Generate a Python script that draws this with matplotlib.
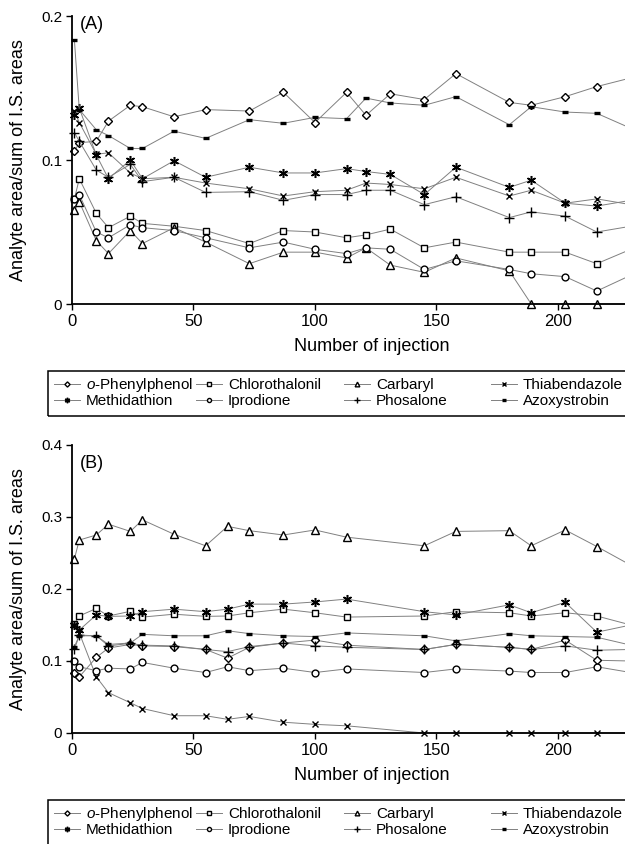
import matplotlib
matplotlib.use('Agg')
import matplotlib.pyplot as plt
from matplotlib.patches import Rectangle
from matplotlib.ticker import FuncFormatter

plt.rcParams['font.family'] = ['Liberation Sans', 'DejaVu Sans']
plt.rcParams['mathtext.fontset'] = 'custom'
plt.rcParams['mathtext.it'] = 'Liberation Sans:italic'
plt.rcParams['mathtext.rm'] = 'Liberation Sans'

names = ['$\\it{o}$-Phenylphenol', 'Chlorothalonil', 'Carbaryl', 'Thiabendazole',
         'Methidathion', 'Iprodione', 'Phosalone', 'Azoxystrobin']

# panel A
x_a = [1, 3, 10, 15, 24, 29, 42, 55, 73, 87, 100, 113, 121, 131, 145, 158, 180, 189, 203, 216, 230]
phenylphenol_a = [0.106, 0.112, 0.113, 0.127, 0.138, 0.137, 0.130, 0.135, 0.134, 0.147, 0.126,
                  0.147, 0.131, 0.146, 0.142, 0.160, 0.140, 0.138, 0.144, 0.151, 0.157]
chlorothalonil_a = [0.073, 0.087, 0.063, 0.053, 0.061, 0.056, 0.054, 0.051, 0.042, 0.051, 0.050,
                    0.046, 0.048, 0.052, 0.039, 0.043, 0.036, 0.036, 0.036, 0.028, 0.038]
carbaryl_a = [0.065, 0.071, 0.044, 0.035, 0.051, 0.042, 0.053, 0.043, 0.028, 0.036, 0.036,
              0.032, 0.039, 0.027, 0.022, 0.032, 0.023, 0.0, 0.0, 0.0, 0.0]
thiabendazole_a = [0.134, 0.126, 0.104, 0.105, 0.091, 0.087, 0.088, 0.084, 0.080, 0.075, 0.078,
                   0.079, 0.084, 0.083, 0.080, 0.088, 0.075, 0.079, 0.070, 0.073, 0.069]
methidathion_a = [0.131, 0.136, 0.1035, 0.087, 0.100, 0.087, 0.0995, 0.088, 0.095, 0.091, 0.091,
                  0.094, 0.092, 0.090, 0.076, 0.095, 0.081, 0.086, 0.070, 0.068, 0.072]
iprodione_a = [0.073, 0.076, 0.050, 0.046, 0.055, 0.053, 0.051, 0.046, 0.039, 0.043, 0.038,
               0.035, 0.039, 0.038, 0.024, 0.030, 0.024, 0.021, 0.019, 0.009, 0.020]
phosalone_a = [0.119, 0.113, 0.093, 0.088, 0.097, 0.085, 0.088, 0.0775, 0.078, 0.072, 0.076,
               0.076, 0.079, 0.079, 0.069, 0.0745, 0.060, 0.064, 0.061, 0.050, 0.054]
azoxystrobin_a = [0.183, 0.135, 0.121, 0.117, 0.108, 0.108, 0.120, 0.115, 0.128, 0.1255, 0.1296,
                  0.1287, 0.143, 0.1396, 0.138, 0.144, 0.1245, 0.137, 0.1333, 0.1324, 0.122]

# panel B
x_b = [1, 3, 10, 15, 24, 29, 42, 55, 64, 73, 87, 100, 113, 145, 158, 180, 189, 203, 216, 230]
phenylphenol_b = [0.084, 0.078, 0.105, 0.118, 0.123, 0.121, 0.120, 0.116, 0.104, 0.119, 0.125,
                  0.129, 0.122, 0.116, 0.123, 0.119, 0.116, 0.129, 0.101, 0.100]
chlorothalonil_b = [0.152, 0.1625, 0.173, 0.1625, 0.169, 0.161, 0.165, 0.162, 0.1625, 0.167, 0.172,
                    0.167, 0.161, 0.1625, 0.1685, 0.167, 0.1625, 0.167, 0.1625, 0.150]
carbaryl_b = [0.242, 0.268, 0.275, 0.290, 0.280, 0.296, 0.276, 0.260, 0.287, 0.281, 0.275,
              0.282, 0.272, 0.260, 0.280, 0.281, 0.260, 0.282, 0.259, 0.233]
thiabendazole_b = [0.150, 0.139, 0.078, 0.056, 0.042, 0.034, 0.024, 0.024, 0.019, 0.023, 0.015,
                   0.012, 0.010, 0.0, 0.0, 0.0, 0.0, 0.0, 0.0, 0.0]
methidathion_b = [0.150, 0.143, 0.164, 0.162, 0.1625, 0.1685, 0.172, 0.1685, 0.172, 0.179, 0.179,
                  0.182, 0.186, 0.1685, 0.164, 0.178, 0.167, 0.1815, 0.140, 0.150]
iprodione_b = [0.1005, 0.092, 0.0866, 0.090, 0.089, 0.098, 0.090, 0.084, 0.092, 0.0866, 0.090,
               0.084, 0.089, 0.084, 0.089, 0.086, 0.084, 0.084, 0.092, 0.084]
phosalone_b = [0.116, 0.136, 0.135, 0.121, 0.1245, 0.122, 0.121, 0.116, 0.113, 0.120, 0.125,
               0.121, 0.119, 0.116, 0.123, 0.119, 0.116, 0.121, 0.115, 0.116]
azoxystrobin_b = [0.120, 0.135, 0.135, 0.123, 0.125, 0.137, 0.135, 0.135, 0.142, 0.138, 0.135,
                  0.134, 0.139, 0.135, 0.128, 0.138, 0.135, 0.134, 0.133, 0.122]

series_a = [phenylphenol_a, chlorothalonil_a, carbaryl_a, thiabendazole_a,
            methidathion_a, iprodione_a, phosalone_a, azoxystrobin_a]
series_b = [phenylphenol_b, chlorothalonil_b, carbaryl_b, thiabendazole_b,
            methidathion_b, iprodione_b, phosalone_b, azoxystrobin_b]

styles = [
    dict(marker='D', ms=4.4, mfc='white', mew=1.0),
    dict(marker='s', ms=4.6, mfc='white', mew=1.0),
    dict(marker='^', ms=5.6, mfc='white', mew=1.0),
    dict(marker='x', ms=5, mew=1.0),
    dict(marker=(6, 2, 0), ms=6.5, mew=1.1),
    dict(marker='o', ms=4.9, mfc='white', mew=1.0),
    dict(marker='+', ms=6.5, mew=1.0),
    dict(marker='_', ms=4, mew=2.4),
]

W, H = 625, 844
fig = plt.figure(figsize=(W / 100, H / 100), dpi=100)
col_x = [54, 196, 344, 491]


def panel(bottom_px, x, series, ymax, tag, tag_y, row1):
    ax = fig.add_axes([72 / W, 1 - bottom_px / H, 553 / W, 288 / H])
    lines = []
    for vals, st in zip(series, styles):
        ln, = ax.plot(x, vals, color='#808080', lw=0.7, mec='black', clip_on=False, **st)
        lines.append(ln)
    ax.set_xlim(0, 227.6)
    ax.set_ylim(0, ymax)
    ax.set_xticks([0, 50, 100, 150, 200])
    ax.set_yticks([i * 0.1 for i in range(int(round(ymax * 10)) + 1)])
    ax.yaxis.set_major_formatter(FuncFormatter(lambda v, _: f'{v:g}'))
    ax.spines['top'].set_visible(False)
    ax.spines['right'].set_visible(False)
    ax.spines['left'].set_linewidth(1.3)
    ax.spines['bottom'].set_linewidth(1.3)
    ax.tick_params(direction='out', length=4, width=1, pad=3)
    ax.tick_params(axis='x', labelsize=12)
    ax.tick_params(axis='y', labelsize=11)
    ax.set_xlabel('Number of injection', fontsize=13)
    ax.xaxis.set_label_coords(0.5425, -0.118)
    ax.set_ylabel('Analyte area/sum of I.S. areas', fontsize=13)
    ax.yaxis.set_label_coords(-0.081, 0.5)
    ax.text(0.015, tag_y, tag, transform=ax.transAxes, fontsize=13, va='center')

    # legend: one entry per slot so every row lines up like the original
    for i, ln in enumerate(lines):
        cx = col_x[i % 4]
        cy = row1 + 16 * (i // 4)
        fig.legend(handles=[ln], labels=[names[i]], loc='center left',
                   bbox_to_anchor=(cx / W, 1 - cy / H), frameon=False, fontsize=11,
                   handlelength=1.7, handletextpad=0.4, borderpad=0, borderaxespad=0,
                   markerscale=0.6)
    box_top = row1 - 14
    fig.add_artist(Rectangle((48 / W, 1 - (box_top + 45) / H), 600 / W, 45 / H,
                             transform=fig.transFigure, fill=False, lw=1.1, ec='black'))
    return ax


panel(304, x_a, series_a, 0.2, '(A)', 0.969, 385)
panel(733, x_b, series_b, 0.4, '(B)', 0.9375, 814)

fig.savefig('out.png', dpi=100)
